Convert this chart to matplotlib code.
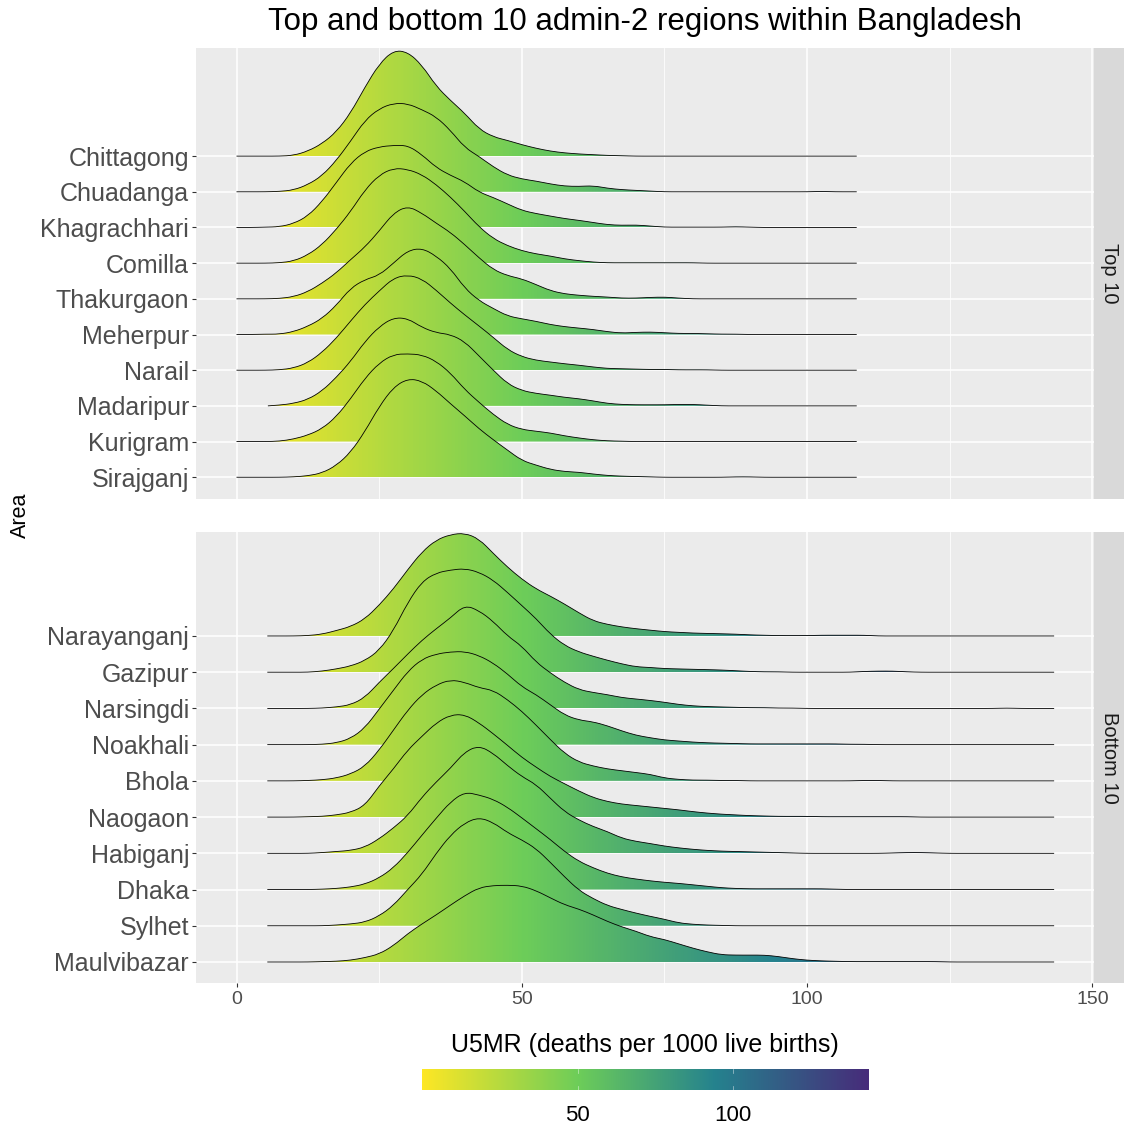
import numpy as np
import matplotlib
matplotlib.use("Agg")
import matplotlib.pyplot as plt
from matplotlib.path import Path
from matplotlib.patches import PathPatch
from matplotlib.colors import Normalize, LinearSegmentedColormap

plt.rcParams['font.family'] = ['Liberation Sans', 'DejaVu Sans']

# U5MR values at which the ridge heights were read (one grid per facet)
x_top = [0, 2.5, 5, 7.5, 10, 12.5, 15, 17.5, 20, 22.5, 25, 27.5, 30, 32.5, 35,
         37.5, 40, 42.5, 45, 47.5, 50, 52.5, 55, 57.5, 60, 62.5, 65, 67.5, 70,
         72.5, 75, 77.5, 80, 82.5, 85, 87.5, 90, 92.5, 95, 97.5, 100, 102.5,
         105, 107.5, 108.7]
x_bottom = [5.4, 7.5, 10, 12.5, 15, 17.5, 20, 22.5, 25, 27.5, 30, 32.5, 35, 37.5,
            40, 42.5, 45, 47.5, 50, 52.5, 55, 57.5, 60, 62.5, 65, 67.5, 70, 72.5,
            75, 77.5, 80, 82.5, 85, 87.5, 90, 92.5, 95, 97.5, 100, 102.5, 105,
            107.5, 110, 112.5, 115, 117.5, 120, 122.5, 125, 127.5, 130, 132.5,
            135, 137.5, 140, 142.5, 143.3]

names_top = ["Chittagong", "Chuadanga", "Khagrachhari", "Comilla", "Thakurgaon",
             "Meherpur", "Narail", "Madaripur", "Kurigram", "Sirajganj"]
names_bottom = ["Narayanganj", "Gazipur", "Narsingdi", "Noakhali", "Bhola",
                "Naogaon", "Habiganj", "Dhaka", "Sylhet", "Maulvibazar"]

# where each density line starts (top facet)
start_top = [0, 0, 0, 0, 0, 0, 0, 5.5, 0, 0]

# ridge heights (in row units), trailing values are zero
h_chittagong = [0, 0, 0, 0, 0.02, 0.14, 0.35, 0.68, 1.21, 1.93, 2.58, 2.96, 2.92, 2.55, 1.96,
                1.56, 1.20, 0.76, 0.54, 0.44, 0.32, 0.22, 0.14, 0.09, 0.06, 0.04, 0.02, 0.01]
h_chuadanga = [0, 0, 0, 0.01, 0.05, 0.20, 0.45, 0.88, 1.42, 2.00, 2.33, 2.48, 2.47, 2.30, 2.10,
               1.72, 1.24, 0.99, 0.70, 0.47, 0.36, 0.30, 0.22, 0.16, 0.15, 0.17, 0.10, 0.06,
               0.04, 0.02, 0, 0, 0, 0, 0, 0, 0, 0, 0, 0, 0, 0.01]
h_khagrachhari = [0, 0, 0.01, 0.02, 0.11, 0.32, 0.73, 1.26, 1.80, 2.13, 2.26, 2.30, 2.30, 2.04,
                  1.68, 1.46, 1.28, 0.99, 0.84, 0.66, 0.48, 0.39, 0.32, 0.25, 0.20, 0.14, 0.08,
                  0.06, 0.07, 0.04, 0.01, 0.01, 0.01, 0.01, 0.01, 0.02, 0.01]
h_comilla = [0, 0, 0, 0.01, 0.06, 0.23, 0.52, 0.95, 1.45, 2.05, 2.47, 2.66, 2.63, 2.48, 2.20,
             1.85, 1.45, 1.02, 0.69, 0.49, 0.35, 0.26, 0.20, 0.12, 0.07, 0.03, 0.01, 0.01,
             0.01, 0.01, 0.01, 0.01, 0.01]
h_thakurgaon = [0, 0, 0, 0.01, 0.06, 0.20, 0.44, 0.73, 1.10, 1.45, 1.90, 2.40, 2.60, 2.40, 2.12,
                1.86, 1.52, 1.15, 0.82, 0.65, 0.56, 0.40, 0.23, 0.14, 0.10, 0.07, 0.05, 0.02,
                0.02, 0.04, 0.05, 0.02]
h_meherpur = [0, 0, 0.01, 0.01, 0.08, 0.23, 0.45, 0.82, 1.30, 1.54, 1.66, 2.00, 2.35, 2.42, 2.20,
              1.85, 1.30, 0.95, 0.73, 0.52, 0.44, 0.37, 0.28, 0.22, 0.18, 0.14, 0.08, 0.04,
              0.06, 0.07, 0.05, 0.03, 0.03, 0.02, 0.01, 0.01]
h_narail = [0, 0, 0, 0.01, 0.06, 0.21, 0.50, 0.90, 1.38, 1.84, 2.22, 2.58, 2.67, 2.56, 2.24,
            1.88, 1.55, 1.24, 0.92, 0.58, 0.38, 0.28, 0.23, 0.18, 0.14, 0.09, 0.05, 0.04,
            0.03, 0.02, 0.02, 0.01, 0.01, 0.01]
h_madaripur = [0, 0, 0, 0.02, 0.07, 0.18, 0.42, 0.80, 1.25, 1.80, 2.22, 2.47, 2.45, 2.20, 2.05,
               2.00, 1.80, 1.40, 1.00, 0.62, 0.43, 0.35, 0.30, 0.24, 0.20, 0.14, 0.07, 0.04,
               0.03, 0.03, 0.03, 0.04, 0.04, 0.02]
h_kurigram = [0, 0, 0, 0.01, 0.07, 0.18, 0.36, 0.70, 1.20, 1.77, 2.20, 2.44, 2.46, 2.43, 2.25,
              1.92, 1.46, 1.10, 0.76, 0.48, 0.34, 0.29, 0.24, 0.16, 0.10, 0.05, 0.02, 0.01]
h_sirajganj = [0, 0, 0, 0, 0.01, 0.04, 0.12, 0.33, 0.70, 1.28, 1.98, 2.52, 2.76, 2.70, 2.42,
               2.06, 1.72, 1.36, 1.05, 0.76, 0.47, 0.34, 0.22, 0.16, 0.14, 0.09, 0.05, 0.03,
               0.02, 0.01, 0, 0, 0, 0, 0, 0.01, 0.01]

h_narayanganj = [0, 0, 0, 0.01, 0.05, 0.15, 0.26, 0.47, 0.85, 1.30, 1.83, 2.32, 2.65, 2.80,
                 2.84, 2.68, 2.28, 1.90, 1.57, 1.30, 1.10, 0.88, 0.64, 0.42, 0.32, 0.25, 0.20,
                 0.16, 0.12, 0.10, 0.08, 0.07, 0.06, 0.05, 0.03, 0.02, 0.01, 0.01, 0.01, 0.02,
                 0.02, 0.02, 0.02]
h_gazipur = [0, 0, 0, 0, 0.03, 0.09, 0.17, 0.32, 0.60, 1.15, 1.92, 2.50, 2.74, 2.82, 2.86,
             2.76, 2.54, 2.20, 1.84, 1.48, 1.05, 0.74, 0.56, 0.44, 0.33, 0.23, 0.15, 0.13,
             0.10, 0.09, 0.08, 0.07, 0.06, 0.04, 0.02, 0.01, 0.01, 0, 0, 0, 0, 0, 0.02, 0.03,
             0.03, 0.01]
h_narsingdi = [0, 0, 0, 0, 0.01, 0.04, 0.10, 0.30, 0.72, 1.10, 1.50, 1.88, 2.20, 2.50, 2.85,
               2.70, 2.40, 2.00, 1.72, 1.28, 0.98, 0.72, 0.52, 0.44, 0.38, 0.30, 0.26, 0.22,
               0.17, 0.11, 0.07, 0.05, 0.04, 0.03, 0.02, 0.02, 0.01, 0.01, 0, 0, 0, 0, 0, 0,
               0, 0, 0, 0, 0, 0, 0, 0, 0.01]
h_noakhali = [0, 0, 0, 0, 0.01, 0.05, 0.17, 0.46, 0.98, 1.50, 2.02, 2.36, 2.50, 2.56, 2.57,
              2.46, 2.25, 1.95, 1.60, 1.38, 1.10, 0.82, 0.68, 0.63, 0.52, 0.38, 0.26, 0.19,
              0.13, 0.10, 0.07, 0.05, 0.04, 0.03, 0.02, 0.02, 0.02, 0.02, 0.02, 0.02, 0.02,
              0.01, 0.01]
h_bhola = [0, 0, 0, 0.01, 0.03, 0.08, 0.19, 0.40, 0.85, 1.40, 1.95, 2.38, 2.65, 2.79, 2.72,
           2.57, 2.50, 2.24, 1.92, 1.54, 1.14, 0.76, 0.52, 0.41, 0.33, 0.28, 0.23, 0.18, 0.08,
           0.04, 0.02, 0.02, 0.01, 0.01, 0, 0, 0, 0, 0, 0, 0, 0, 0.01, 0.01]
h_naogaon = [0, 0, 0, 0.01, 0.02, 0.06, 0.13, 0.32, 0.86, 1.33, 1.85, 2.23, 2.60, 2.82, 2.83,
             2.60, 2.30, 1.98, 1.65, 1.38, 1.12, 0.92, 0.72, 0.54, 0.43, 0.36, 0.32, 0.28,
             0.24, 0.20, 0.15, 0.11, 0.08, 0.06, 0.04, 0.03, 0.02, 0.02, 0.02, 0.01, 0.01,
             0.01, 0.01, 0.01, 0.01, 0.01]
h_habiganj = [0, 0, 0, 0, 0.02, 0.05, 0.08, 0.17, 0.40, 0.70, 1.04, 1.55, 1.97, 2.35, 2.80,
              2.97, 2.76, 2.42, 2.12, 1.90, 1.52, 1.15, 0.92, 0.74, 0.60, 0.42, 0.33, 0.27,
              0.20, 0.15, 0.11, 0.08, 0.06, 0.05, 0.04, 0.03, 0.02, 0.01, 0, 0, 0, 0, 0, 0,
              0.01, 0.02, 0.02, 0.01]
h_dhaka = [0, 0, 0, 0, 0.01, 0.03, 0.07, 0.15, 0.32, 0.60, 1.02, 1.50, 1.97, 2.42, 2.69,
           2.61, 2.49, 2.27, 1.98, 1.68, 1.38, 1.05, 0.78, 0.60, 0.45, 0.35, 0.29, 0.24, 0.20,
           0.17, 0.13, 0.09, 0.05, 0.03, 0.02, 0.02, 0.02, 0.02, 0.02, 0.02, 0.01]
h_sylhet = [0, 0, 0, 0, 0, 0.02, 0.05, 0.10, 0.27, 0.56, 1.00, 1.42, 2.00, 2.50, 2.84, 2.99,
            2.85, 2.57, 2.37, 2.13, 1.75, 1.35, 0.98, 0.75, 0.56, 0.45, 0.35, 0.26, 0.18,
            0.08, 0.04, 0.02, 0.01]
h_maulvibazar = [0, 0, 0, 0, 0.01, 0.02, 0.05, 0.12, 0.22, 0.45, 0.78, 1.05, 1.30, 1.57, 1.83,
                 2.05, 2.11, 2.12, 2.10, 1.97, 1.77, 1.58, 1.46, 1.30, 1.12, 0.97, 0.85, 0.70,
                 0.62, 0.50, 0.38, 0.28, 0.20, 0.19, 0.19, 0.19, 0.15, 0.09, 0.05, 0.03, 0.02,
                 0.01, 0.01, 0.01, 0.01, 0.01, 0.01, 0.01]

heights_top = [h_chittagong, h_chuadanga, h_khagrachhari, h_comilla, h_thakurgaon,
               h_meherpur, h_narail, h_madaripur, h_kurigram, h_sirajganj]
heights_bottom = [h_narayanganj, h_gazipur, h_narsingdi, h_noakhali, h_bhola,
                  h_naogaon, h_habiganj, h_dhaka, h_sylhet, h_maulvibazar]

u5mr_min, u5mr_max = 0, 143.3

# colour stops of the fill gradient (U5MR value, colour)
stop_values = [0, 50, 94, 143.3]
stop_colors = ['#FDE725', '#6DCD59', '#25828E', '#472C7A']

W, H = 1124, 1130
fig = plt.figure(figsize=(W / 100, H / 100), dpi=100)


def px_axes(left, top, right, bottom):
    return fig.add_axes([left / W, 1 - bottom / H, (right - left) / W, (bottom - top) / H])


cmap = LinearSegmentedColormap.from_list(
    'u5mr', [((v - u5mr_min) / (u5mr_max - u5mr_min), c)
             for v, c in zip(stop_values, stop_colors)])
norm = Normalize(u5mr_min, u5mr_max)
grad = np.linspace(u5mr_min, u5mr_max, 800)[None, :]


def ridge_path(xs, ys, base=None):
    # quadratic bezier through the midpoints -> smooth density outline
    verts = [(xs[0], ys[0])]
    codes = [Path.MOVETO]
    for k in range(1, len(xs) - 1):
        verts += [(xs[k], ys[k]), ((xs[k] + xs[k + 1]) / 2, (ys[k] + ys[k + 1]) / 2)]
        codes += [Path.CURVE3, Path.CURVE3]
    verts.append((xs[-1], ys[-1]))
    codes.append(Path.LINETO)
    if base is not None:
        verts += [(xs[-1], base), (xs[0], base), (xs[0], base)]
        codes += [Path.LINETO, Path.LINETO, Path.CLOSEPOLY]
    return Path(verts, codes)


def draw_panel(ax, xgrid, names, heights, starts, ylim):
    n = len(names)
    ax.set_facecolor('#EBEBEB')
    for v in [25, 75, 125]:
        ax.axvline(v, color='white', lw=0.55, zorder=0.5)
    for v in [0, 50, 100, 150]:
        ax.axvline(v, color='white', lw=1.1, zorder=0.6)
    bases = [n - i for i in range(n)]
    for b in bases:
        ax.axhline(b, color='white', lw=1.1, zorder=0.6)

    for i, (h, x0) in enumerate(zip(heights, starts)):
        base = bases[i]
        xs = np.array(xgrid, dtype=float)
        hs = np.zeros(len(xs))
        hs[:len(h)] = h
        if x0 > xs[0]:
            keep = xs > x0
            xs = np.concatenate([[x0], xs[keep]])
            hs = np.concatenate([[0], hs[keep]])
        z = 2 + 2 * i
        fill = PathPatch(ridge_path(xs, base + hs, base), facecolor='none',
                         edgecolor='none', transform=ax.transData)
        ax.add_patch(fill)
        im = ax.imshow(grad, cmap=cmap, norm=norm, aspect='auto', origin='lower',
                       extent=[u5mr_min, u5mr_max, base, base + hs.max() + 0.05],
                       interpolation='bilinear', zorder=z)
        im.set_clip_path(fill)
        ax.add_patch(PathPatch(ridge_path(xs, base + hs), facecolor='none',
                               edgecolor='black', lw=0.6, zorder=z + 1))

    ax.set_xlim(-7.1, 150.2)
    ax.set_ylim(*ylim)
    ax.set_yticks(bases)
    ax.set_yticklabels(names)
    ax.set_xticks([0, 50, 100, 150])
    for s in ax.spines.values():
        s.set_visible(False)
    ax.tick_params(axis='y', length=3, width=0.8, color='#333333',
                   labelcolor='#4D4D4D', labelsize=18, pad=2)
    ax.tick_params(axis='x', length=3, width=0.8, color='#333333',
                   labelcolor='#4D4D4D', labelsize=14, pad=3)


ax_top = px_axes(196, 48, 1093.5, 499)
ax_bot = px_axes(196, 532, 1093.5, 983)
draw_panel(ax_top, x_top, names_top, heights_top, start_top, (0.39, 13.03))
draw_panel(ax_bot, x_bottom, names_bottom, heights_bottom, [5.4] * 10, (0.42, 12.87))
ax_top.tick_params(axis='x', length=0, labelbottom=False)

# facet strips
for (t, b), label in [((48, 499), "Top 10"), ((532, 983), "Bottom 10")]:
    sax = px_axes(1094, t, 1124, b)
    sax.set_facecolor('#D9D9D9')
    sax.set_xticks([])
    sax.set_yticks([])
    for s in sax.spines.values():
        s.set_visible(False)
    sax.text(0.5, 0.5, label, rotation=-90, ha='center', va='center',
             fontsize=14.5, color='#1A1A1A', transform=sax.transAxes)

fig.text(644.5 / W, 1 - 22 / H, "Top and bottom 10 admin-2 regions within Bangladesh",
         ha='center', va='center', fontsize=22.5, color='black')
fig.text(20 / W, 1 - 515 / H, "Area", rotation=90, ha='center', va='center',
         fontsize=15.5, color='black')

# colour bar legend
cax = px_axes(422, 1069, 868, 1090)
cax.imshow(grad, cmap=cmap, norm=norm, aspect='auto',
           extent=[u5mr_min, u5mr_max, 0, 1], interpolation='bilinear')
cax.set_xlim(u5mr_min, u5mr_max)
cax.set_ylim(0, 1)
for v in [50, 100]:
    cax.plot([v, v], [0, 0.2], color='white', lw=0.5, alpha=0.6)
    cax.plot([v, v], [0.8, 1], color='white', lw=0.5, alpha=0.6)
cax.set_xticks([50, 100])
cax.set_yticks([])
cax.tick_params(axis='x', length=0, labelsize=16, pad=11, labelcolor='black')
for s in cax.spines.values():
    s.set_visible(False)
fig.text(645 / W, 1 - 1045 / H, "U5MR (deaths per 1000 live births)",
         ha='center', va='center', fontsize=18, color='black')

fig.savefig("out.png", dpi=100)
